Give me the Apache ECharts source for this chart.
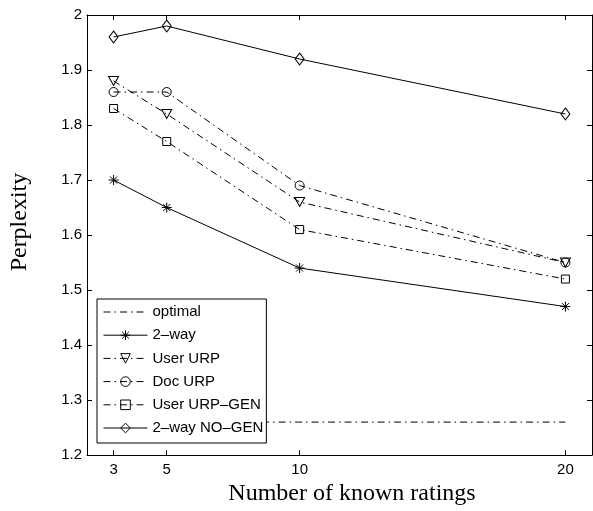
<!DOCTYPE html>
<html>
<head>
<meta charset="utf-8">
<script src="https://cdn.jsdelivr.net/npm/echarts@6/dist/echarts.min.js"></script>
<style>
  html, body { margin: 0; padding: 0; background: #fff; }
  #chart { width: 593px; height: 511px; }
</style>
</head>
<body>
<div id="chart"></div>
<script>
// known ratings on the x axis
const ratings = [3, 5, 10, 20];
const xTicks = [3, 5, 10, 20];
const yTicks = [1.2, 1.3, 1.4, 1.5, 1.6, 1.7, 1.8, 1.9, 2];

// perplexity per method
const optimal = [1.26, 1.26, 1.26, 1.26];
const twoWay = [1.70, 1.65, 1.54, 1.47];
const userURP = [1.88, 1.82, 1.66, 1.55];
const docURP = [1.86, 1.86, 1.69, 1.55];
const userURPGen = [1.83, 1.77, 1.61, 1.52];
const twoWayNoGen = [1.96, 1.98, 1.92, 1.82];

const names = ["optimal", "2–way", "User URP", "Doc URP", "User URP–GEN", "2–way NO–GEN"];

const dashDot = [7, 4, 1.5, 4];
const star = "path://M0,-5L0,5M-5,0L5,0M-3.5,-3.5L3.5,3.5M-3.5,3.5L3.5,-3.5";
const triDown = "path://M-5,-4L5,-4L0,5Z";

const chart = echarts.init(document.getElementById("chart"));

const pairs = (vals) => ratings.map((x, i) => [x, vals[i]]);

const mkSeries = (name, vals, dash, symbol, size, border) => ({
  name: name,
  type: "line",
  data: pairs(vals),
  symbol: symbol,
  symbolSize: size,
  showSymbol: border > 0,
  lineStyle: { color: "#000", width: 1, type: dash },
  itemStyle: { color: "rgba(0,0,0,0)", borderColor: border > 0 ? "#000" : "rgba(0,0,0,0)", borderWidth: border },
  emphasis: { disabled: true },
  animation: false,
  z: 2,
});

const axisFont = { fontFamily: "Liberation Sans", fontSize: 15, color: "#000" };
const titleFont = { fontFamily: "Liberation Serif", fontSize: 24, color: "#000" };

const option = {
  animation: false,
  grid: { left: 87, right: 1, top: 15, bottom: 53 },
  xAxis: [
    {
      type: "value",
      min: 2,
      max: 21,
      name: "Number of known ratings",
      nameLocation: "middle",
      nameGap: 17,
      nameTextStyle: Object.assign({ padding: [0, 0, 0, 25] }, titleFont),
      axisLine: { lineStyle: { color: "#000", width: 1 } },
      axisTick: { inside: true, length: 5, customValues: xTicks, lineStyle: { color: "#000" } },
      axisLabel: Object.assign({ customValues: xTicks, margin: 7 }, axisFont),
      splitLine: { show: false },
    },
    {
      type: "value",
      position: "top",
      min: 2,
      max: 21,
      axisLine: { onZero: false, lineStyle: { color: "#000", width: 1 } },
      axisTick: { inside: true, length: 5, customValues: xTicks, lineStyle: { color: "#000" } },
      axisLabel: { show: false },
      splitLine: { show: false },
    },
  ],
  yAxis: [
    {
      type: "value",
      min: 1.2,
      max: 2,
      interval: 0.1,
      name: "Perplexity",
      nameLocation: "middle",
      nameGap: 55,
      nameTextStyle: Object.assign({ padding: [0, 0, 0, 26] }, titleFont),
      axisLine: { show: true, lineStyle: { color: "#000", width: 1 } },
      axisTick: { inside: true, length: 5, lineStyle: { color: "#000" } },
      axisLabel: Object.assign({ margin: 5, formatter: (v) => String(+v.toFixed(1)) }, axisFont),
      splitLine: { show: false },
    },
    {
      type: "value",
      position: "right",
      min: 1.2,
      max: 2,
      interval: 0.1,
      axisLine: { show: true, onZero: false, lineStyle: { color: "#000", width: 1 } },
      axisTick: { inside: true, length: 5, lineStyle: { color: "#000" } },
      axisLabel: { show: false },
      splitLine: { show: false },
    },
  ],
  legend: {
    orient: "vertical",
    left: 97,
    top: 299,
    data: names,
    backgroundColor: "#fff",
    borderColor: "#000",
    borderWidth: 1,
    borderRadius: 0,
    padding: [5, 3, 7, 6],
    itemWidth: 44,
    itemHeight: 12,
    itemGap: 7.2,
    lineStyle: { width: 1 },
    itemStyle: { borderWidth: "inherit" },
    textStyle: Object.assign({ lineHeight: 16 }, axisFont),
    selectedMode: false,
    z: 10,
  },
  series: [
    mkSeries(names[0], optimal, dashDot, "circle", 1, 0),
    mkSeries(names[1], twoWay, "solid", star, 10, 1),
    mkSeries(names[2], userURP, dashDot, triDown, [10, 9], 1),
    mkSeries(names[3], docURP, dashDot, "circle", 9, 1),
    mkSeries(names[4], userURPGen, dashDot, "rect", 8, 1),
    mkSeries(names[5], twoWayNoGen, "solid", "diamond", [9, 12], 1),
  ],
};

chart.setOption(option);
</script>
</body>
</html>
